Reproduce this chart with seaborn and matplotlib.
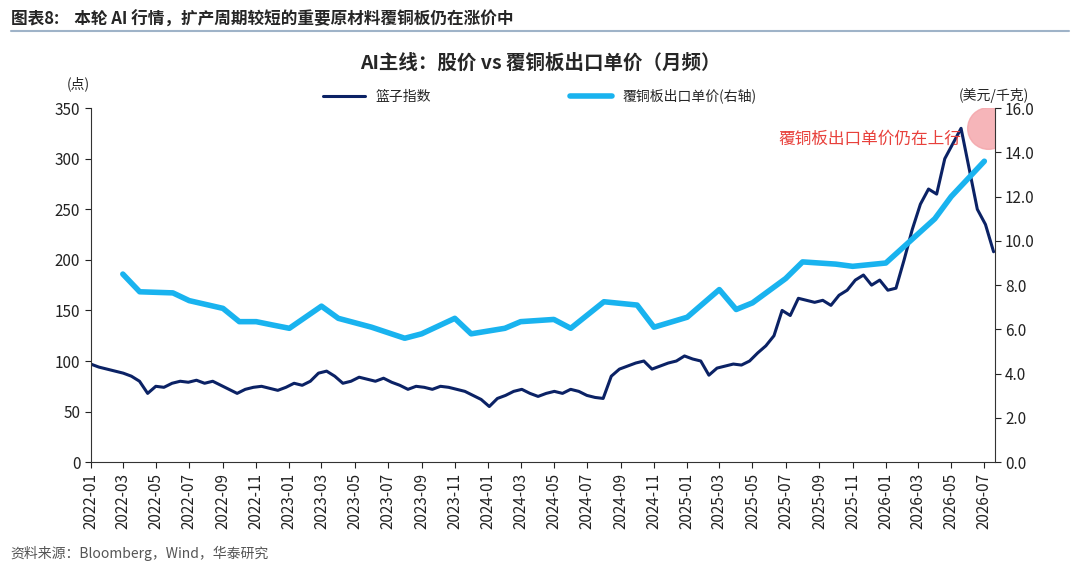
import numpy as np
import pandas as pd
import matplotlib
matplotlib.use('Agg')
import matplotlib.pyplot as plt
import matplotlib.dates as mdates
import seaborn as sns

sns.set_style('white')
plt.rcParams['font.family'] = ['Noto Sans CJK SC', 'DejaVu Sans']

# 覆铜板出口单价（月频，美元/千克）
ccl_months = ['2022-03', '2022-04', '2022-06', '2022-07', '2022-09', '2022-10', '2022-11',
              '2022-12', '2023-01', '2023-03', '2023-04', '2023-06', '2023-08', '2023-09',
              '2023-11', '2023-12', '2024-02', '2024-03', '2024-05', '2024-06', '2024-08',
              '2024-10', '2024-11', '2025-01', '2025-03', '2025-04', '2025-05', '2025-07',
              '2025-08', '2025-10', '2025-11', '2026-01', '2026-04', '2026-05', '2026-07']
ccl_price = [8.5, 7.7, 7.65, 7.3, 6.95, 6.35, 6.35,
             6.2, 6.05, 7.05, 6.5, 6.1, 5.6, 5.8,
             6.5, 5.8, 6.05, 6.35, 6.45, 6.05, 7.25,
             7.1, 6.1, 6.55, 7.8, 6.9, 7.2, 8.3,
             9.05, 8.95, 8.85, 9.0, 11.0, 12.0, 13.6]

# 篮子指数（约半月一个读数）
basket = [97, 94, 92, 90, 88, 85, 80, 68, 75, 74, 78, 80, 79, 81, 78, 80, 76, 72, 68, 72,
          74, 75, 73, 71, 74, 78, 76, 80, 88, 90, 85, 78, 80, 84, 82, 80, 83, 79, 76, 72,
          75, 74, 72, 75, 74, 72, 70, 66, 62, 55, 63, 66, 70, 72, 68, 65, 68, 70, 68, 72,
          70, 66, 64, 63, 85, 92, 95, 98, 100, 92, 95, 98, 100, 105, 102, 100, 86, 93, 95, 97,
          96, 100, 108, 115, 125, 150, 145, 162, 160, 158, 160, 155, 165, 170, 180, 185, 175, 180,
          170, 172, 200, 230, 255, 270, 265, 300, 315, 330, 290, 250, 235, 208]
basket_start, basket_end = '2022-01-01', '2026-07-18'

dates = pd.to_datetime(np.linspace(pd.Timestamp(basket_start).value,
                                   pd.Timestamp(basket_end).value, len(basket)))
df_b = pd.DataFrame({'date': dates, 'value': basket})
df_c = pd.DataFrame({'date': pd.to_datetime(ccl_months), 'value': ccl_price})

fig = plt.figure(figsize=(10.8, 5.72), dpi=100)
ax = fig.add_axes([0.084, 0.192, 0.837, 0.619])
ax2 = ax.twinx()

sns.lineplot(data=df_b, x='date', y='value', ax=ax, color='#0b2265', lw=2.2, label='篮子指数', legend=False)
sns.lineplot(data=df_c, x='date', y='value', ax=ax2, color='#19b3ef', lw=4, label='覆铜板出口单价(右轴)', legend=False)

ax.set_ylim(0, 350)
ax.set_yticks(range(0, 351, 50))
ax2.set_ylim(0, 16)
ax2.set_yticks(np.arange(0, 16.1, 2))
ax2.set_yticklabels([f'{v:.1f}' for v in np.arange(0, 16.1, 2)])
ax.set_xlim(pd.Timestamp('2022-01-01'), pd.Timestamp('2026-07-20'))
ax.xaxis.set_major_locator(mdates.MonthLocator(bymonth=[1, 3, 5, 7, 9, 11]))
ax.xaxis.set_major_formatter(mdates.DateFormatter('%Y-%m'))
for lab in ax.get_xticklabels():
    lab.set_rotation(90)
ax.set_xlabel('')
ax.set_ylabel('')
ax2.set_ylabel('')
for a in (ax, ax2):
    a.spines['top'].set_visible(False)
    a.tick_params(labelsize=11, length=4, direction='out', colors='#222222')
    for s in a.spines.values():
        s.set_color('#333333')
ax.tick_params(axis='both', left=True, bottom=True)
ax2.tick_params(right=True)
ax.spines['right'].set_visible(False)
ax2.spines['left'].set_visible(False)
ax2.spines['bottom'].set_visible(False)

# 标注
ax2.scatter([pd.Timestamp('2026-07-08')], [15.1], s=900, color='#f4a3a8', alpha=0.8, zorder=0)
ax2.text(pd.Timestamp('2026-05-20'), 14.6, '覆铜板出口单价仍在上行', color='#e8413c',
         fontsize=12, ha='right', va='center')

h1, l1 = ax.get_legend_handles_labels()
h2, l2 = ax2.get_legend_handles_labels()
fig.legend(h1 + h2, l1 + l2, loc='center', bbox_to_anchor=(0.5, 0.832), ncol=2,
           frameon=False, fontsize=10, columnspacing=10, handlelength=3)

fig.text(0.062, 0.845, '(点)', fontsize=10)
fig.text(0.888, 0.825, '(美元/千克)', fontsize=10)
fig.text(0.5, 0.88, 'AI主线：股价 vs 覆铜板出口单价（月频）', fontsize=14, fontweight='bold', ha='center')
fig.text(0.01, 0.965, '图表8:    本轮 AI 行情，扩产周期较短的重要原材料覆铜板仍在涨价中',
         fontsize=12, fontweight='bold', va='center')
fig.add_artist(plt.Line2D([0.01, 0.99], [0.945, 0.945], color='#9fb3c8', lw=1.5))
fig.text(0.01, 0.025, '资料来源：Bloomberg，Wind，华泰研究', fontsize=10, color='#555555')

fig.savefig('out.png', dpi=100)
